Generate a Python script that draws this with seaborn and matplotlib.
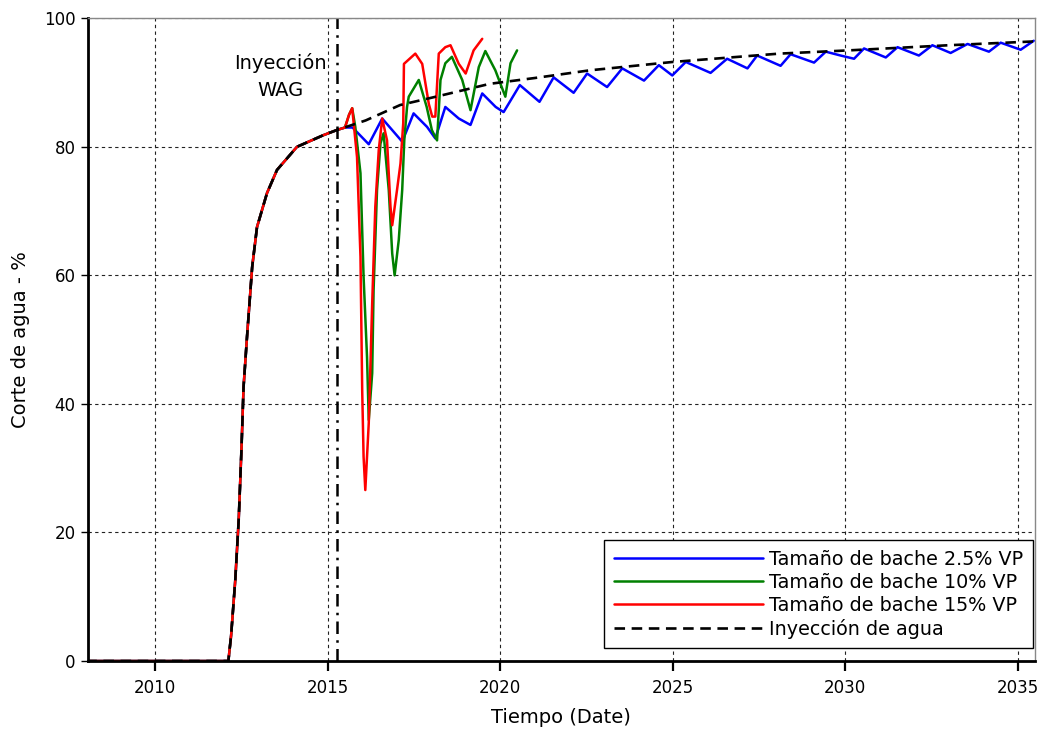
import seaborn as sns
import matplotlib
matplotlib.use("Agg")
import matplotlib.pyplot as plt
import pandas as pd

# common history before WAG start (all cases)
hist_years = [2008.0, 2009.0, 2010.0, 2011.0, 2012.0, 2012.12, 2012.2, 2012.32, 2012.42, 2012.5,
              2012.56, 2012.66, 2012.81, 2012.95, 2013.24, 2013.53, 2014.11, 2014.87, 2015.26]
hist_cut = [0, 0, 0, 0, 0, 0, 4.0, 12.6, 22.0, 33.0,
            42.6, 50.4, 61.3, 67.5, 72.8, 76.4, 80.0, 81.8, 82.6]

# water injection only
water_years = [2015.26, 2016.1, 2017.1, 2018.3, 2019.7, 2021.0, 2022.6, 2025.0, 2028.1, 2030.1, 2033.0, 2035.5]
water_cut = [82.6, 84.1, 86.5, 88.0, 89.8, 90.7, 91.9, 93.2, 94.5, 95.0, 95.8, 96.4]

# WAG 2.5% VP
b25_years = [2015.26, 2015.5, 2015.72, 2016.19, 2016.58, 2017.16, 2017.49, 2017.88, 2018.12, 2018.41,
             2018.8, 2019.14, 2019.48, 2019.87, 2020.1, 2020.57, 2021.14, 2021.55, 2022.13, 2022.52,
             2023.1, 2023.54, 2024.17, 2024.6, 2024.99, 2025.38, 2026.1, 2026.58, 2027.17, 2027.45,
             2028.13, 2028.42, 2029.1, 2029.44, 2029.87, 2030.26, 2030.55, 2031.18, 2031.52, 2032.14,
             2032.53, 2033.06, 2033.55, 2034.17, 2034.51, 2035.09, 2035.47]
b25_cut = [82.6, 83.0, 83.0, 80.4, 84.4, 80.8, 85.2, 83.1, 81.3, 86.2,
           84.4, 83.4, 88.3, 86.2, 85.4, 89.6, 87.0, 90.8, 88.4, 91.4,
           89.3, 92.2, 90.3, 92.7, 91.1, 93.2, 91.5, 93.7, 92.2, 94.2,
           92.6, 94.4, 93.1, 94.8, 94.2, 93.7, 95.3, 93.9, 95.5, 94.2,
           95.8, 94.6, 96.0, 94.8, 96.2, 95.1, 96.5]

# WAG 10% VP
b10_years = [2015.26, 2015.5, 2015.62, 2015.71, 2015.8, 2015.95, 2016.04, 2016.14, 2016.19, 2016.29,
             2016.33, 2016.43, 2016.53, 2016.62, 2016.77, 2016.87, 2016.94, 2017.06, 2017.16, 2017.22,
             2017.3, 2017.35, 2017.64, 2017.87, 2018.02, 2018.17, 2018.27, 2018.41, 2018.6, 2018.9,
             2019.14, 2019.38, 2019.57, 2019.86, 2020.15, 2020.3, 2020.49]
b10_cut = [82.6, 83.0, 85.0, 86.0, 83.1, 75.9, 59.8, 47.3, 37.5, 44.8,
           57.7, 73.3, 80.5, 82.1, 73.3, 63.4, 60.0, 65.5, 73.3, 81.0,
           86.2, 87.8, 90.4, 86.2, 82.6, 81.0, 90.4, 93.0, 94.0, 90.4,
           85.7, 92.4, 94.9, 91.9, 87.8, 93.0, 95.0]

# WAG 15% VP
b15_years = [2015.26, 2015.5, 2015.62, 2015.71, 2015.85, 2015.95, 2016.0, 2016.04, 2016.09, 2016.19,
             2016.29, 2016.38, 2016.48, 2016.58, 2016.72, 2016.82, 2016.87, 2017.01, 2017.11, 2017.19,
             2017.21, 2017.54, 2017.74, 2017.93, 2018.03, 2018.12, 2018.22, 2018.41, 2018.56, 2018.8,
             2019.0, 2019.23, 2019.48]
b15_cut = [82.6, 83.0, 85.0, 86.0, 78.4, 62.9, 42.1, 31.8, 26.6, 37.0,
           55.7, 70.7, 79.5, 84.4, 81.0, 70.7, 67.8, 73.3, 77.4, 83.7,
           92.9, 94.5, 92.9, 86.7, 84.7, 84.7, 94.5, 95.5, 95.8, 92.9,
           91.4, 95.0, 96.8]

wag_start = 2015.26
x_ticks = [2010, 2015, 2020, 2025, 2030, 2035]
y_ticks = [0, 20, 40, 60, 80, 100]
labels = ["Tamaño de bache 2.5% VP", "Tamaño de bache 10% VP",
          "Tamaño de bache 15% VP", "Inyección de agua"]


def series(years, cut):
    df = pd.DataFrame({"year": hist_years[:-1] + years, "cut": hist_cut[:-1] + cut})
    return df


sns.set_theme(style="white")
plt.rcParams["font.family"] = ["DejaVu Sans"]
plt.rcParams["text.color"] = "black"
plt.rcParams["axes.labelcolor"] = "black"
plt.rcParams["xtick.color"] = "black"
plt.rcParams["ytick.color"] = "black"

fig = plt.figure(figsize=(10.4, 7.3), dpi=100)
ax = fig.add_axes([0.0846, 0.0945, 0.9104, 0.8805])

sns.lineplot(data=series(b25_years, b25_cut), x="year", y="cut", color="#0000ff",
             linewidth=1.8, label=labels[0], ax=ax)
sns.lineplot(data=series(b10_years, b10_cut), x="year", y="cut", color="#008000",
             linewidth=1.8, label=labels[1], ax=ax)
sns.lineplot(data=series(b15_years, b15_cut), x="year", y="cut", color="#ff0000",
             linewidth=1.8, label=labels[2], ax=ax)
sns.lineplot(data=series(water_years, water_cut), x="year", y="cut", color="black",
             linewidth=1.9, linestyle=(0, (4, 2.5)), label=labels[3], ax=ax)

ax.axvline(wag_start, color="black", linewidth=1.8, linestyle=(0, (5, 2.5, 1, 2.5)))
ax.text(2013.63, 90.9, "Inyección\nWAG", ha="center", va="center", fontsize=14,
        linespacing=1.5)

ax.set_xlim(2008.05, 2035.5)
ax.set_ylim(0, 100)
ax.set_xticks(x_ticks)
ax.set_yticks(y_ticks)
ax.grid(True, color="#222222", linestyle=(0, (3, 3)), linewidth=0.8)

for side in ["left", "bottom"]:
    ax.spines[side].set_color("black")
    ax.spines[side].set_linewidth(2.0)
for side in ["top", "right"]:
    ax.spines[side].set_color("#888888")
    ax.spines[side].set_linewidth(1.0)

ax.tick_params(axis="x", direction="out", length=7, width=1.6, color="black",
               labelsize=12, pad=6, bottom=True)
ax.tick_params(axis="y", direction="out", length=5, width=1.0, color="black",
               labelsize=12, pad=4, left=True)

ax.set_xlabel("Tiempo (Date)", fontsize=14, labelpad=8)
ax.set_ylabel("Corte de agua - %", fontsize=14, labelpad=10)

ax.legend(loc="lower right", bbox_to_anchor=(0.998, 0.02), borderaxespad=0,
          fontsize=13.8, frameon=True, fancybox=False, edgecolor="black", framealpha=1,
          borderpad=0.5, handlelength=7.8, handletextpad=0.3, labelspacing=0.2)
ax.get_legend().get_frame().set_linewidth(1.0)

fig.savefig("out.png", dpi=100)
